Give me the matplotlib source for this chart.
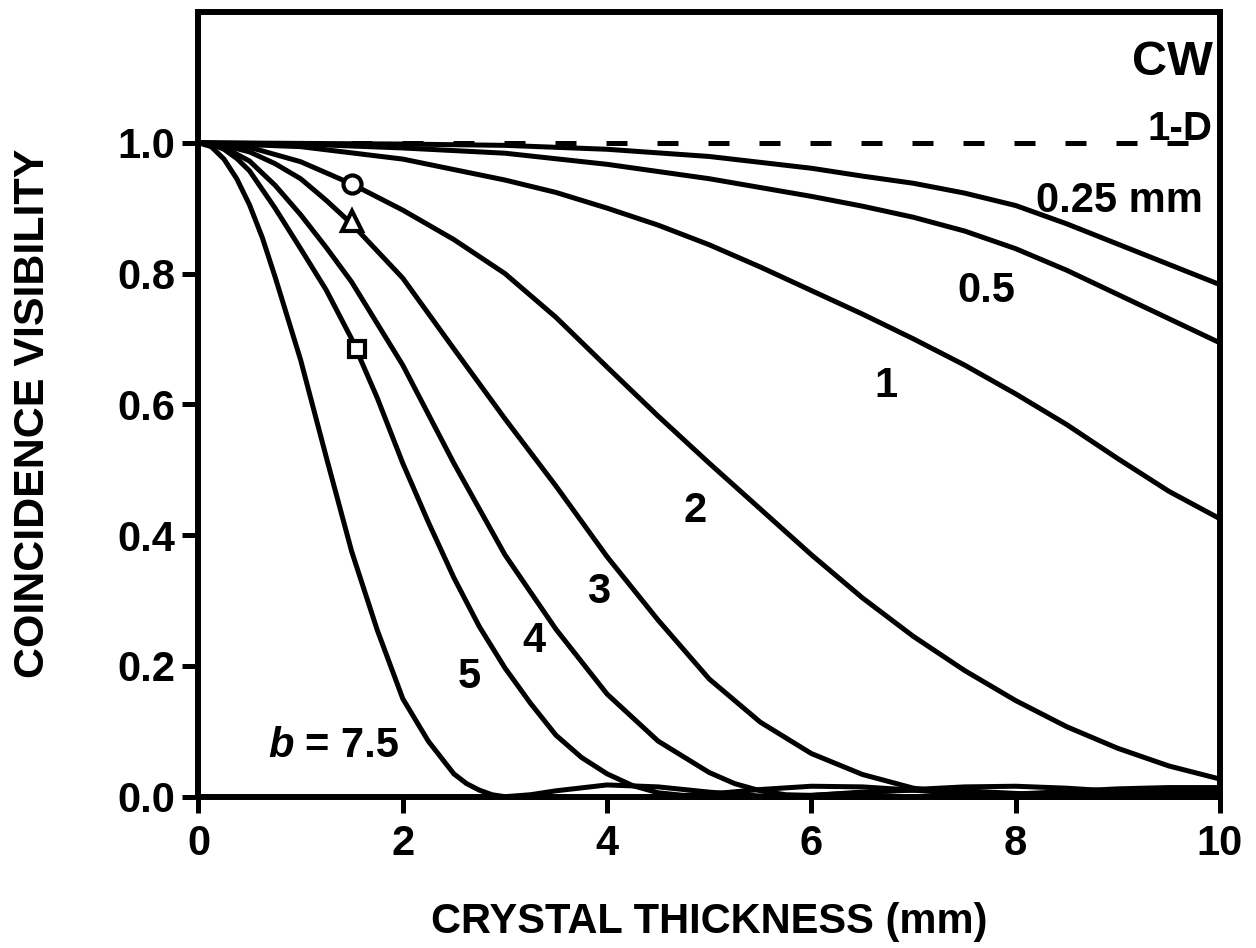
import matplotlib
matplotlib.use("Agg")
import matplotlib.pyplot as plt

plt.rcParams['font.family'] = ['Liberation Sans', 'DejaVu Sans']
plt.rcParams['font.weight'] = 'bold'

# values
x_025 = [0, 1, 2, 3, 4, 5, 6, 6.5, 7, 7.5, 8, 8.5, 9, 9.5, 10]
v_025 = [1.0, 0.999, 0.998, 0.996, 0.99, 0.979, 0.961, 0.949, 0.938, 0.923, 0.904, 0.876, 0.845, 0.814, 0.783]

x_05 = [0, 1, 2, 3, 4, 5, 6, 6.5, 7, 7.5, 8, 8.5, 9, 9.5, 10]
v_05 = [1.0, 0.998, 0.992, 0.984, 0.967, 0.945, 0.918, 0.903, 0.886, 0.865, 0.838, 0.805, 0.768, 0.731, 0.694]

x_1 = [0, 1, 2, 3, 3.5, 4, 4.5, 5, 5.5, 6, 6.5, 7, 7.5, 8, 8.5, 9, 9.5, 10]
v_1 = [1.0, 0.994, 0.975, 0.943, 0.924, 0.90, 0.874, 0.844, 0.81, 0.774, 0.738, 0.70, 0.66, 0.616, 0.569, 0.517, 0.467, 0.425]

x_2 = [0, 0.5, 1, 1.5, 2, 2.5, 3, 3.5, 4, 4.5, 5, 5.5, 6, 6.5, 7, 7.5, 8, 8.5, 9, 9.5, 10]
v_2 = [1.0, 0.993, 0.971, 0.937, 0.897, 0.852, 0.80, 0.733, 0.657, 0.582, 0.51, 0.44, 0.37, 0.304, 0.245, 0.193, 0.147, 0.107, 0.074, 0.047, 0.027]

x_3 = [0, 0.25, 0.5, 0.75, 1, 1.25, 1.5, 2, 2.5, 3, 3.5, 4, 4.5, 5, 5.5, 6, 6.5, 7, 7.5, 8, 8.5, 9, 9.5, 10]
v_3 = [1.0, 0.996, 0.986, 0.968, 0.945, 0.912, 0.876, 0.793, 0.685, 0.578, 0.475, 0.367, 0.27, 0.18, 0.114, 0.066, 0.034, 0.013, 0.004, 0.004, 0.008, 0.012, 0.014, 0.014]

x_4 = [0, 0.25, 0.5, 0.75, 1, 1.25, 1.5, 2, 2.5, 3, 3.5, 4, 4.5, 5, 5.25, 5.5, 5.75, 6, 6.5, 7, 7.5, 8, 8.5, 9, 9.5, 10]
v_4 = [1.0, 0.993, 0.972, 0.935, 0.89, 0.84, 0.787, 0.66, 0.51, 0.37, 0.256, 0.157, 0.085, 0.037, 0.02, 0.009, 0.003, 0.002, 0.006, 0.011, 0.015, 0.016, 0.013, 0.008, 0.003, 0.001]

x_5 = [0, 0.125, 0.25, 0.375, 0.5, 0.75, 1, 1.25, 1.5, 1.75, 2, 2.25, 2.5, 2.75, 3, 3.25, 3.5, 3.75, 4, 4.25, 4.5,
       4.75, 5, 5.5, 6, 6.5, 7, 7.5, 8, 8.5, 9, 9.5, 10]
v_5 = [1.0, 0.998, 0.99, 0.976, 0.957, 0.90, 0.838, 0.775, 0.70, 0.61, 0.51, 0.42, 0.335, 0.26, 0.197, 0.143, 0.094, 0.06, 0.035, 0.017, 0.006,
       0.002, 0.004, 0.011, 0.016, 0.015, 0.01, 0.004, 0.001, 0.003, 0.007, 0.009, 0.008]

x_75 = [0, 0.125, 0.25, 0.375, 0.5, 0.625, 0.75, 1, 1.25, 1.5, 1.75, 2, 2.25, 2.5, 2.625, 2.75, 2.875, 3, 3.25, 3.5, 4, 4.5, 5, 5.5, 6,
        6.5, 7, 7.5, 8, 8.5, 9, 9.5, 10]
v_75 = [1.0, 0.994, 0.975, 0.945, 0.905, 0.855, 0.795, 0.668, 0.52, 0.375, 0.255, 0.15, 0.085, 0.035, 0.02, 0.01, 0.003, 0.0, 0.003, 0.009, 0.018, 0.015, 0.007, 0.001, 0.002,
        0.007, 0.01, 0.009, 0.005, 0.002, 0.001, 0.004, 0.006]

x_1d = [0, 9.7]
v_1d = [1.0, 1.0]

curves = [(x_025, v_025), (x_05, v_05), (x_1, v_1), (x_2, v_2),
          (x_3, v_3), (x_4, v_4), (x_5, v_5), (x_75, v_75)]

marker_x = [1.5, 1.5, 1.55]
marker_y = [0.937, 0.88, 0.685]
marker_shapes = ['o', '^', 's']
marker_sizes = [13, 15, 12]

fig = plt.figure(figsize=(12.56, 9.48), dpi=100)
ax = fig.add_axes([0.158, 0.1596, 0.8133, 0.8278])

for xs, vs in curves:
    ax.plot(xs, vs, color='black', lw=3.6, solid_joinstyle='round', zorder=3)

ax.plot(x_1d, v_1d, color='black', lw=3.6, dashes=(4.2, 6.0), zorder=3)

for mx, my, shp, ms in zip(marker_x, marker_y, marker_shapes, marker_sizes):
    ax.plot(mx, my, marker=shp, ms=ms, mfc='white', mec='black', mew=3, zorder=5)

ax.set_xlim(0, 10)
ax.set_ylim(0, 1.2)
ax.set_xticks([0, 2, 4, 6, 8, 10])
ax.set_yticks([0, 0.2, 0.4, 0.6, 0.8, 1.0])
ax.set_yticklabels(['0.0', '0.2', '0.4', '0.6', '0.8', '1.0'])

for sp in ax.spines.values():
    sp.set_linewidth(4.3)
ax.tick_params(axis='both', direction='out', length=11.5, width=3.6, labelsize=30)
ax.tick_params(axis='x', pad=8)
ax.tick_params(axis='y', pad=5)

ax.set_xlabel('CRYSTAL THICKNESS (mm)', fontsize=30, fontweight='bold')
ax.xaxis.set_label_coords(0.5, -0.16)
ax.xaxis.label.set_va('center')
ax.set_ylabel('COINCIDENCE VISIBILITY', fontsize=31, fontweight='bold')
ax.yaxis.set_label_coords(-0.162, 0.489)
ax.yaxis.label.set_va('center')

# curve labels
ax.text(9.93, 1.1035, 'CW', fontsize=35, ha='right', va='baseline')
ax.text(9.93, 1.004, '1-D', fontsize=29, ha='right', va='baseline')
ax.text(9.83, 0.894, '0.25 mm', fontsize=30, ha='right', va='baseline')
ax.text(7.71, 0.756, '0.5', fontsize=30, ha='center', va='baseline')
ax.text(6.735, 0.611, '1', fontsize=30, ha='center', va='baseline')
ax.text(4.86, 0.42, '2', fontsize=30, ha='center', va='baseline')
ax.text(3.92, 0.296, '3', fontsize=30, ha='center', va='baseline')
ax.text(3.285, 0.2215, '4', fontsize=30, ha='center', va='baseline')
ax.text(2.653, 0.166, '5', fontsize=30, ha='center', va='baseline')
ax.text(0.687, 0.061, 'b', fontsize=30, style='italic', ha='left', va='baseline')
ax.text(1.96, 0.061, '= 7.5', fontsize=30, ha='right', va='baseline')

fig.savefig('out.png', dpi=100)
